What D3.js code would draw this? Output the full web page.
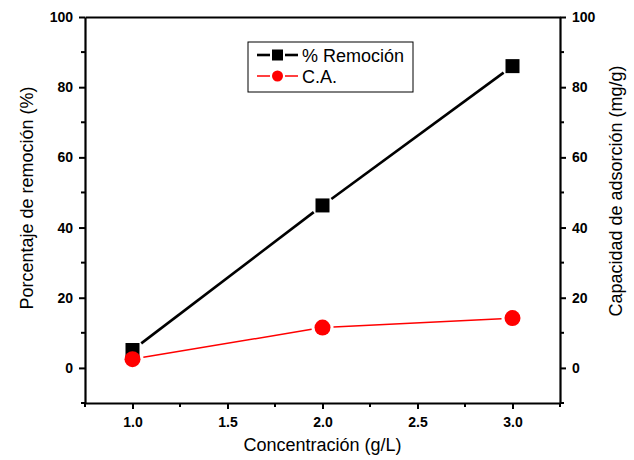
<!DOCTYPE html>
<html>
<head>
<meta charset="utf-8">
<script src="https://cdn.jsdelivr.net/npm/d3@7"></script>
<style>
  body { margin: 0; background: #fff; }
  text { font-family: Arial, "Liberation Sans", sans-serif; }
</style>
</head>
<body>
<div id="stage"></div>
<script>
const concentracion = [1.0, 2.0, 3.0];
const remocion = [5.1, 46.3, 86.0];
const capacidad = [2.5, 11.5, 14.2];
const xTicks = [1.0, 1.5, 2.0, 2.5, 3.0];
const yTicks = [0, 20, 40, 60, 80, 100];

const W = 634, H = 460;
const m = { left: 85, right: 74, top: 17, bottom: 57 };

const svg = d3.select('#stage').append('svg')
  .attr('width', W).attr('height', H);

const x = d3.scaleLinear().domain([0.75, 3.25]).range([m.left, W - m.right]);
const yL = d3.scaleLinear().domain([-10, 100]).range([H - m.bottom, m.top]);
const yR = d3.scaleLinear().domain([-10, 100]).range([H - m.bottom, m.top]);

const styleAxis = (g) => {
  g.select('.domain').attr('stroke-width', 2.2);
  g.selectAll('.tick line').attr('stroke-width', 2);
  g.selectAll('.tick text')
    .attr('font-size', 14).attr('font-weight', 'bold').attr('fill', '#000');
};

// minor ticks
const minorX = d3.range(0.75, 3.26, 0.25).filter(v => !xTicks.some(t => Math.abs(t - v) < 1e-6));
const minorY = d3.range(-10, 101, 10).filter(v => !yTicks.includes(v));

const axBottom = svg.append('g').attr('transform', `translate(0,${H - m.bottom})`)
  .call(d3.axisBottom(x).tickValues(xTicks).tickFormat(d3.format('.1f')).tickSize(6).tickSizeOuter(0).tickPadding(8));
styleAxis(axBottom);
axBottom.selectAll('.minor').data(minorX).join('line')
  .attr('x1', d => x(d)).attr('x2', d => x(d)).attr('y1', 0).attr('y2', 4)
  .attr('stroke', '#000').attr('stroke-width', 2);

const axTop = svg.append('g').attr('transform', `translate(0,${m.top})`)
  .call(d3.axisTop(x).tickValues([]).tickSizeOuter(0));
axTop.select('.domain').attr('stroke-width', 2.2);

const axLeft = svg.append('g').attr('transform', `translate(${m.left},0)`)
  .call(d3.axisLeft(yL).tickValues(yTicks).tickSize(6).tickSizeOuter(0).tickPadding(6));
styleAxis(axLeft);
axLeft.selectAll('.minor').data(minorY).join('line')
  .attr('y1', d => yL(d)).attr('y2', d => yL(d)).attr('x1', 0).attr('x2', -4)
  .attr('stroke', '#000').attr('stroke-width', 2);

const axRight = svg.append('g').attr('transform', `translate(${W - m.right},0)`)
  .call(d3.axisRight(yR).tickValues(yTicks).tickSize(6).tickSizeOuter(0).tickPadding(6));
styleAxis(axRight);
axRight.selectAll('.minor').data(minorY).join('line')
  .attr('y1', d => yR(d)).attr('y2', d => yR(d)).attr('x1', 0).attr('x2', 4)
  .attr('stroke', '#000').attr('stroke-width', 2);

// axis titles
svg.append('text').attr('x', (m.left + W - m.right) / 2).attr('y', 451)
  .attr('text-anchor', 'middle').attr('font-size', 18).text('Concentración (g/L)');
svg.append('text').attr('transform', `translate(33,${(m.top + H - m.bottom) / 2 - 12}) rotate(-90)`)
  .attr('text-anchor', 'middle').attr('font-size', 18).text('Porcentaje de remoción (%)');
svg.append('text').attr('transform', `translate(622,${(m.top + H - m.bottom) / 2 - 19}) rotate(-90)`)
  .attr('text-anchor', 'middle').attr('font-size', 18).text('Capacidad de adsorción (mg/g)');

// line with gaps around markers
const drawGapLine = (xs, ys, scale, color, width, gap) => {
  for (let i = 0; i < xs.length - 1; i++) {
    const x1 = x(xs[i]), y1 = scale(ys[i]), x2 = x(xs[i + 1]), y2 = scale(ys[i + 1]);
    const len = Math.hypot(x2 - x1, y2 - y1);
    const ux = (x2 - x1) / len, uy = (y2 - y1) / len;
    svg.append('line')
      .attr('x1', x1 + ux * gap).attr('y1', y1 + uy * gap)
      .attr('x2', x2 - ux * gap).attr('y2', y2 - uy * gap)
      .attr('stroke', color).attr('stroke-width', width);
  }
};

drawGapLine(concentracion, remocion, yL, '#000', 2.6, 11);
svg.selectAll('.sq').data(concentracion).join('rect')
  .attr('x', d => x(d) - 7).attr('y', (d, i) => yL(remocion[i]) - 7)
  .attr('width', 14).attr('height', 14).attr('fill', '#000');

drawGapLine(concentracion, capacidad, yR, '#ff0000', 1.5, 11);
svg.selectAll('.ci').data(concentracion).join('circle')
  .attr('cx', d => x(d)).attr('cy', (d, i) => yR(capacidad[i]))
  .attr('r', 8).attr('fill', '#ff0000');

// legend
const lg = svg.append('g').attr('transform', 'translate(248,42)');
lg.append('rect').attr('width', 165).attr('height', 50)
  .attr('fill', '#fff').attr('stroke', '#000').attr('stroke-width', 1);
const items = [
  { label: '% Remoción', color: '#000', w: 2.6, shape: 'square' },
  { label: 'C.A.', color: '#ff0000', w: 1.5, shape: 'circle' }
];
items.forEach((it, i) => {
  const cy = 13 + i * 21;
  lg.append('line').attr('x1', 9).attr('x2', 22).attr('y1', cy).attr('y2', cy)
    .attr('stroke', it.color).attr('stroke-width', it.w);
  lg.append('line').attr('x1', 37).attr('x2', 50).attr('y1', cy).attr('y2', cy)
    .attr('stroke', it.color).attr('stroke-width', it.w);
  if (it.shape === 'square') {
    lg.append('rect').attr('x', 24).attr('y', cy - 5.5).attr('width', 11).attr('height', 11).attr('fill', it.color);
  } else {
    lg.append('circle').attr('cx', 29.5).attr('cy', cy).attr('r', 5.5).attr('fill', it.color);
  }
  lg.append('text').attr('x', 54).attr('y', cy + 6.5).attr('font-size', 18).text(it.label);
});
</script>
</body>
</html>
